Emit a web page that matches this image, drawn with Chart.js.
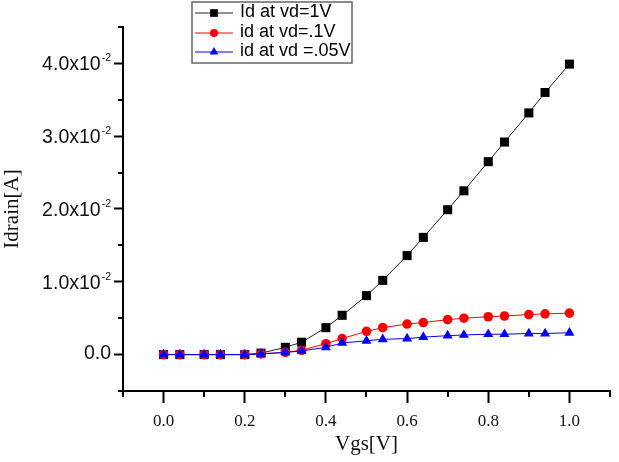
<!DOCTYPE html>
<html>
<head>
<meta charset="utf-8">
<script src="https://cdn.jsdelivr.net/npm/chart.js@4/dist/chart.umd.min.js"></script>
<style>
  html, body { margin: 0; padding: 0; background: #fff; }
  #wrap { width: 619px; height: 462px; }
</style>
</head>
<body>
<div id="wrap"><canvas id="c" width="619" height="462"></canvas></div>
<script>
// ---- data ----
const vgs = [0, 0.04, 0.1, 0.14, 0.2, 0.24, 0.3, 0.34, 0.4, 0.44, 0.5, 0.54, 0.6, 0.64, 0.7, 0.74, 0.8, 0.84, 0.9, 0.94, 1.0];
const idVd1 = [0, 0, 0, 0, 0, 0.0002, 0.0010, 0.0017, 0.0037, 0.0054, 0.0081, 0.0102, 0.0136, 0.0161, 0.0199, 0.0225, 0.0265, 0.0292, 0.0332, 0.0360, 0.0399];
const idVd01 = [0, 0, 0, 0, 0, 0.0001, 0.0003, 0.0006, 0.0015, 0.0022, 0.0032, 0.0037, 0.0042, 0.0044, 0.0048, 0.0050, 0.0052, 0.0053, 0.0055, 0.0056, 0.0057];
const idVd005 = [0, 0, 0, 0, 0, 0.0001, 0.0003, 0.0005, 0.0010, 0.0016, 0.0019, 0.0021, 0.0022, 0.0024, 0.0026, 0.0027, 0.0028, 0.0028, 0.0029, 0.0029, 0.0030];
const seriesNames = ['Id at vd=1V', 'id at vd=.1V', 'id at vd =.05V'];
const xMajorTicks = [0, 0.2, 0.4, 0.6, 0.8, 1.0];
const xTickLabels = ['0.0', '0.2', '0.4', '0.6', '0.8', '1.0'];
const xMinorTicks = [-0.1, 0.1, 0.3, 0.5, 0.7, 0.9, 1.1];
const yMajorTicks = [0, 0.01, 0.02, 0.03, 0.04];
const yTickLabels = ['0.0', '1.0x10', '2.0x10', '3.0x10', '4.0x10'];
const yTickExponents = ['', '-2', '-2', '-2', '-2'];
const yMinorTicks = [-0.005, 0.005, 0.015, 0.025, 0.035, 0.045];

const pts = arr => vgs.map((x, i) => ({ x: x, y: arr[i] }));

const minorTicksPlugin = {
  id: 'minorTicks',
  afterDraw(chart) {
    const ctx = chart.ctx;
    const xs = chart.scales.x, ys = chart.scales.y;
    ctx.save();
    ctx.strokeStyle = '#000';
    ctx.lineWidth = 2;
    ctx.beginPath();
    xMinorTicks.forEach(v => {
      const px = Math.round(xs.getPixelForValue(v));
      ctx.moveTo(px, xs.top); ctx.lineTo(px, xs.top + 6);
    });
    yMinorTicks.forEach(v => {
      const py = Math.round(ys.getPixelForValue(v));
      ctx.moveTo(ys.right, py); ctx.lineTo(ys.right - 5, py);
    });
    ctx.stroke();
    ctx.restore();
  }
};

// y tick labels with superscript exponent, drawn at the y scale's tick positions
const yLabelPlugin = {
  id: 'yLabels',
  afterDraw(chart) {
    const ctx = chart.ctx;
    const ys = chart.scales.y;
    const rightEdge = 111;
    const baseFont = '19.5px "Liberation Sans", Arial, sans-serif';
    const supFont = '10.5px "Liberation Sans", Arial, sans-serif';
    ctx.save();
    ctx.fillStyle = '#111';
    ctx.textBaseline = 'alphabetic';
    ctx.textAlign = 'left';
    yMajorTicks.forEach((v, i) => {
      const py = ys.getPixelForValue(v);
      const base = yTickLabels[i], ex = yTickExponents[i];
      ctx.font = baseFont;
      const w1 = ctx.measureText(base).width;
      ctx.font = supFont;
      const w2 = ex ? ctx.measureText(ex).width + 1 : 0;
      const x0 = rightEdge - (w1 + w2);
      const baseY = ex ? py + 7 : py + 4.5;
      ctx.font = baseFont;
      ctx.fillText(base, x0, baseY);
      if (ex) {
        ctx.font = supFont;
        ctx.fillText(ex, x0 + w1 + 1, py - 2);
      }
    });
    ctx.restore();
  }
};

const legendPlugin = {
  id: 'boxLegend',
  afterDraw(chart) {
    const ctx = chart.ctx;
    const ds = chart.data.datasets;
    const bx = 192, by = 2, bw = 160, bh = 61;
    ctx.save();
    ctx.fillStyle = '#fff';
    ctx.fillRect(bx, by, bw, bh);
    ctx.strokeStyle = '#666';
    ctx.lineWidth = 1.5;
    ctx.strokeRect(bx, by, bw, bh);
    const rows = [13, 33, 52];
    ds.forEach((d, i) => {
      const y = rows[i];
      ctx.strokeStyle = d.borderColor;
      ctx.lineWidth = 1;
      ctx.beginPath();
      ctx.moveTo(195, y); ctx.lineTo(233, y);
      ctx.stroke();
      ctx.fillStyle = d.pointBackgroundColor;
      ctx.strokeStyle = d.pointBackgroundColor;
      Chart.helpers.drawPoint(ctx, { pointStyle: d.pointStyle, radius: d.pointRadius * 0.85, rotation: 0, borderWidth: 0 }, 214, y);
      ctx.fillStyle = '#000';
      ctx.font = '18px "Liberation Sans", Arial, sans-serif';
      ctx.textBaseline = 'alphabetic';
      ctx.textAlign = 'left';
      ctx.fillText(d.label, 240, y + 3.5);
    });
    ctx.restore();
  }
};

new Chart(document.getElementById('c'), {
  type: 'scatter',
  data: {
    datasets: [
      { label: seriesNames[0], data: pts(idVd1), showLine: true, borderColor: '#222', borderWidth: 1,
        pointStyle: 'rect', pointRadius: 6.4, pointBackgroundColor: '#000', pointBorderColor: '#000', pointBorderWidth: 0, order: 3 },
      { label: seriesNames[1], data: pts(idVd01), showLine: true, borderColor: '#ff0000', borderWidth: 1,
        pointStyle: 'circle', pointRadius: 4.8, pointBackgroundColor: '#ff0000', pointBorderColor: '#ff0000', pointBorderWidth: 0, order: 2 },
      { label: seriesNames[2], data: pts(idVd005), showLine: true, borderColor: '#0000ff', borderWidth: 1,
        pointStyle: 'triangle', pointRadius: 5.8, pointBackgroundColor: '#0000ff', pointBorderColor: '#0000ff', pointBorderWidth: 0, order: 1 }
    ]
  },
  options: {
    responsive: false,
    animation: false,
    devicePixelRatio: 1,
    layout: { padding: { top: 27, right: 9, left: 0, bottom: 0 } },
    plugins: { legend: { display: false }, tooltip: { enabled: false } },
    elements: { line: { tension: 0 } },
    scales: {
      x: {
        type: 'linear', position: 'bottom', min: -0.1, max: 1.1,
        afterBuildTicks: s => { s.ticks = xMajorTicks.map(v => ({ value: v })); },
        afterFit: s => { s.height = 71; },
        ticks: {
          autoSkip: false, maxRotation: 0, padding: 8, color: '#111',
          font: { family: '"Liberation Serif", "Times New Roman", serif', size: 17 },
          callback: (v, i) => xTickLabels[i]
        },
        grid: { display: true, drawOnChartArea: false, drawTicks: true, tickLength: 12, tickWidth: 2, tickColor: '#000' },
        border: { display: true, color: '#000', width: 2 },
        title: { display: true, text: 'Vgs[V]', color: '#111', padding: { top: 0, bottom: 5 },
          font: { family: '"Liberation Serif", "Times New Roman", serif', size: 21 } }
      },
      y: {
        type: 'linear', position: 'left', min: -0.005, max: 0.045,
        afterBuildTicks: s => { s.ticks = yMajorTicks.map(v => ({ value: v })); },
        afterFit: s => { s.width = 123; },
        ticks: { display: false },
        grid: { display: true, drawOnChartArea: false, drawTicks: true, tickLength: 9, tickWidth: 2, tickColor: '#000' },
        border: { display: true, color: '#000', width: 2 },
        title: { display: true, text: 'Idrain[A]', color: '#111', padding: { top: 0, bottom: 0 },
          font: { family: '"Liberation Serif", "Times New Roman", serif', size: 21 } }
      }
    }
  },
  plugins: [minorTicksPlugin, yLabelPlugin, legendPlugin]
});
</script>
</body>
</html>
